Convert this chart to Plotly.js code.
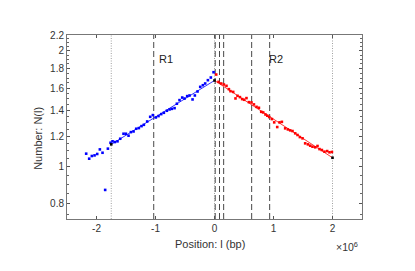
<!DOCTYPE html>
<html><head><meta charset="utf-8">
<script src="https://cdn.plot.ly/plotly-3.0.1.min.js"></script>
<style>html,body{margin:0;padding:0;background:#fff}#chart{width:415px;height:271px}</style>
</head><body><div id="chart"></div>
<script>
// Data (positions in units of 1e6 bp)
const blueX = [-2.175,-2.124,-2.079,-2.033,-1.988,-1.943,-1.898,-1.853,-1.807,-1.762,-1.728,-1.689,-1.644,-1.598,-1.542,-1.502,-1.457,-1.417,-1.372,-1.327,-1.282,-1.237,-1.197,-1.141,-1.090,-1.045,-0.994,-0.949,-0.903,-0.858,-0.807,-0.762,-0.723,-0.677,-0.638,-0.593,-0.547,-0.508,-0.463,-0.423,-0.372,-0.333,-0.288,-0.242,-0.197,-0.158,-0.112,-0.062,-0.016];
const blueY = [1.080,1.048,1.065,1.069,1.078,1.108,1.086,0.869,1.113,1.153,1.163,1.158,1.163,1.181,1.217,1.217,1.203,1.229,1.234,1.254,1.259,1.274,1.284,1.310,1.347,1.361,1.342,1.353,1.369,1.380,1.397,1.408,1.413,1.419,1.457,1.489,1.512,1.503,1.525,1.531,1.495,1.531,1.568,1.612,1.628,1.645,1.678,1.705,1.760];
const redX = [0.029,0.068,0.114,0.159,0.203,0.244,0.271,0.317,0.356,0.390,0.431,0.469,0.503,0.542,0.583,0.627,0.668,0.712,0.753,0.792,0.825,0.864,0.895,0.927,0.973,1.012,1.063,1.102,1.142,1.198,1.244,1.283,1.322,1.368,1.407,1.447,1.492,1.537,1.583,1.622,1.661,1.707,1.746,1.780,1.820,1.864,1.910,1.949,1.990];
const redY = [1.736,1.661,1.645,1.635,1.622,1.590,1.571,1.564,1.504,1.528,1.516,1.498,1.492,1.507,1.471,1.468,1.451,1.430,1.422,1.388,1.383,1.366,1.356,1.345,1.329,1.303,1.267,1.303,1.307,1.257,1.249,1.242,1.237,1.220,1.208,1.193,1.184,1.149,1.142,1.133,1.126,1.122,1.131,1.110,1.104,1.093,1.097,1.089,1.091];
const fitBlueX = [-1.75, 0];
const fitBlueY = [1.142, 1.675];
const fitRedX = [0, 2.0];
const fitRedY = [1.675, 1.054];
const endX = [-1.75, 0, 2.0];
const endY = [1.142, 1.675, 1.054];
const dashedLines = [-1.03, 0.012, 0.085, 0.155, 0.63, 0.935];
const dottedLines = [-1.75, 0, 2.0];
const regionLabels = ['R1', 'R2'];
const regionLabelX = [-0.98, 0.885];
const xTickVals = [-2, -1, 0, 1, 2];
const xTickText = ['-2', '-1', '0', '1', '2'];
const yTickVals = [0.8, 1, 1.2, 1.4, 1.6, 1.8, 2, 2.2];
const yTickText = ['0.8', '1', '1.2', '1.4', '1.6', '1.8', '2', '2.2'];
const yMinorVals = [0.75,0.85,0.9,0.95,1.05,1.1,1.15,1.25,1.3,1.35,1.45,1.5,1.55,1.65,1.7,1.75,1.85,1.9,1.95,2.05,2.1,2.15];

const font = 'Liberation Sans, Arial, Helvetica, sans-serif';
const traces = [
  {x: fitBlueX, y: fitBlueY, mode: 'lines', line: {color: '#0000ff', width: 0.8}, hoverinfo: 'skip'},
  {x: fitRedX, y: fitRedY, mode: 'lines', line: {color: '#ff0000', width: 0.8}, hoverinfo: 'skip'},
  {x: blueX, y: blueY, mode: 'markers', marker: {color: '#0000ff', size: 2.6, symbol: 'square'}},
  {x: redX, y: redY, mode: 'markers', marker: {color: '#ff0000', size: 2.6, symbol: 'square'}},
  {x: endX, y: endY, mode: 'markers', marker: {color: '#000000', size: 2.6, symbol: 'square'}}
];
const shapes = [];
dashedLines.forEach(v => shapes.push({type: 'line', xref: 'x', yref: 'paper', x0: v, x1: v, y0: 0, y1: 1, layer: 'below', line: {color: '#333333', width: 0.9, dash: '6px,3px'}}));
dottedLines.forEach(v => shapes.push({type: 'line', xref: 'x', yref: 'paper', x0: v, x1: v, y0: 0, y1: 1, layer: 'below', line: {color: '#888888', width: 0.8, dash: '1px,1.5px'}}));
const annotations = regionLabels.map((t, i) => ({text: t, x: regionLabelX[i], xref: 'x', y: 0.868, yref: 'paper', xanchor: 'left', yanchor: 'middle', showarrow: false, font: {family: font, size: 11, color: '#222'}}));
annotations.push({text: 'Number: N(l)', textangle: -90, x: -0.099, xref: 'paper', y: 0.44, yref: 'paper', xanchor: 'center', yanchor: 'middle', showarrow: false, font: {family: font, size: 11, color: '#333'}});
annotations.push({text: 'Position: l (bp)', x: 0.485, xref: 'paper', y: -0.134, yref: 'paper', xanchor: 'center', yanchor: 'middle', showarrow: false, font: {family: font, size: 11, color: '#333'}});
annotations.push({text: '×10<sup>6</sup>', x: 0.905, xref: 'paper', y: -0.15, yref: 'paper', xanchor: 'left', yanchor: 'middle', showarrow: false, font: {family: font, size: 10.5, color: '#333'}});

const layout = {
  width: 415, height: 271,
  margin: {l: 67, r: 53, t: 35, b: 52, pad: 0},
  paper_bgcolor: '#fff', plot_bgcolor: '#fff',
  showlegend: false,
  font: {family: font, size: 10, color: '#333'},
  xaxis: {range: [-2.5, 2.5], tickmode: 'array', tickvals: xTickVals, ticktext: xTickText,
    ticks: 'inside', ticklen: 3, tickcolor: '#555', showline: true, linecolor: '#777', linewidth: 1, mirror: 'ticks',
    showgrid: false, zeroline: false, tickfont: {family: font, size: 10, color: '#333'}},
  yaxis: {type: 'log', range: [Math.log10(0.73), Math.log10(2.2)], tickmode: 'array', tickvals: yTickVals, ticktext: yTickText,
    ticks: 'inside', ticklen: 3, tickcolor: '#555', showline: true, linecolor: '#777', linewidth: 1, mirror: 'ticks',
    showgrid: false, zeroline: false, tickfont: {family: font, size: 10, color: '#333'},
    minor: {tickmode: 'array', tickvals: yMinorVals, ticks: 'inside', ticklen: 2, tickcolor: '#666', showgrid: false}},
  shapes: shapes,
  annotations: annotations
};
Plotly.newPlot('chart', traces, layout, {displayModeBar: false, staticPlot: true});
</script></body></html>
